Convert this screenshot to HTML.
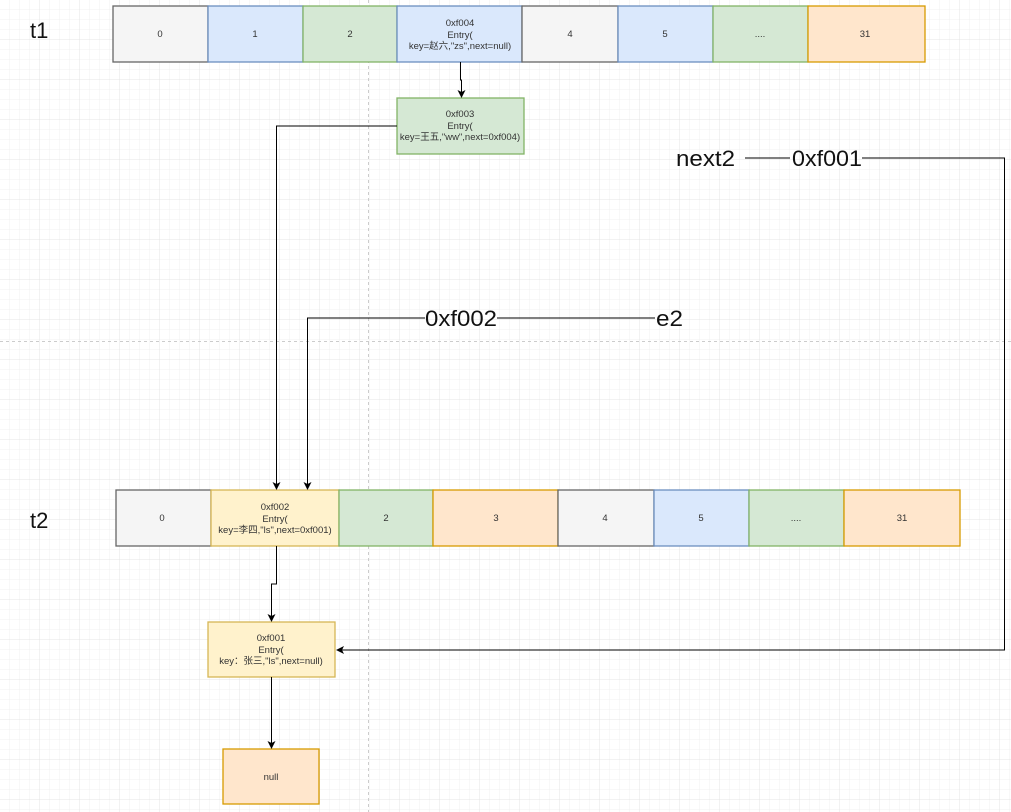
<!DOCTYPE html>
<html><head><meta charset="utf-8"><style>
html,body{margin:0;padding:0;background:#fff;}
svg{display:block;font-family:"Liberation Sans","Noto Sans CJK SC",sans-serif;}
</style></head><body>
<svg width="1011" height="812" viewBox="0 0 1011 812" xmlns="http://www.w3.org/2000/svg">
<defs>
<pattern id="g" width="10" height="10" patternUnits="userSpaceOnUse"><path d="M10 0V10H0" fill="none" stroke="#f1f1f1" stroke-width="1"/></pattern>
<pattern id="G" width="40" height="40" patternUnits="userSpaceOnUse"><rect width="40" height="40" fill="url(#g)"/><path d="M40 0V40H0" fill="none" stroke="#e4e4e4" stroke-width="1"/></pattern>
<marker id="a" markerWidth="8" markerHeight="8" refX="7" refY="4" orient="auto" markerUnits="userSpaceOnUse"><path d="M0 0L8 4L0 8L2 4Z" fill="#000"/></marker>
</defs>
<rect width="1011" height="812" fill="url(#G)"/>
<line x1="368.5" y1="0" x2="368.5" y2="812" stroke="#ccc" stroke-dasharray="3,3"/>
<line x1="0" y1="341.5" x2="1011" y2="341.5" stroke="#ccc" stroke-dasharray="3,3"/>
<g font-size="9.5" fill="#333" text-anchor="middle" stroke-width="1.3">
<rect x="113" y="6" width="95" height="56" fill="#f5f5f5" stroke="#666"/><text x="160" y="37">0</text>
<rect x="208" y="6" width="95" height="56" fill="#dae8fc" stroke="#6c8ebf"/><text x="255" y="37">1</text>
<rect x="303" y="6" width="94" height="56" fill="#d5e8d4" stroke="#82b366"/><text x="350" y="37">2</text>
<rect x="397" y="6" width="125" height="56" fill="#dae8fc" stroke="#6c8ebf"/>
<text x="460" y="26">0xf004</text><text x="460" y="38">Entry(</text><text x="460" y="49">key=赵六,"zs",next=null)</text>
<rect x="522" y="6" width="96" height="56" fill="#f5f5f5" stroke="#666"/><text x="570" y="37">4</text>
<rect x="618" y="6" width="95" height="56" fill="#dae8fc" stroke="#6c8ebf"/><text x="665" y="37">5</text>
<rect x="713" y="6" width="95" height="56" fill="#d5e8d4" stroke="#82b366"/><text x="760" y="37">....</text>
<rect x="808" y="6" width="117" height="56" fill="#ffe6cc" stroke="#d79b00"/><text x="865" y="37">31</text>
<rect x="397" y="98" width="127" height="56" fill="#d5e8d4" stroke="#82b366"/>
<text x="460" y="117">0xf003</text><text x="460" y="129">Entry(</text><text x="460" y="140">key=王五,"ww",next=0xf004)</text>
<rect x="116" y="490" width="95" height="56" fill="#f5f5f5" stroke="#666"/><text x="162" y="521">0</text>
<rect x="211" y="490" width="128" height="56" fill="#fff2cc" stroke="#d6b656"/>
<text x="275" y="510">0xf002</text><text x="275" y="522">Entry(</text><text x="275" y="533">key=李四,"ls",next=0xf001)</text>
<rect x="339" y="490" width="94" height="56" fill="#d5e8d4" stroke="#82b366"/><text x="386" y="521">2</text>
<rect x="433" y="490" width="125" height="56" fill="#ffe6cc" stroke="#d79b00"/><text x="496" y="521">3</text>
<rect x="558" y="490" width="96" height="56" fill="#f5f5f5" stroke="#666"/><text x="605" y="521">4</text>
<rect x="654" y="490" width="95" height="56" fill="#dae8fc" stroke="#6c8ebf"/><text x="701" y="521">5</text>
<rect x="749" y="490" width="95" height="56" fill="#d5e8d4" stroke="#82b366"/><text x="796" y="521">....</text>
<rect x="844" y="490" width="116" height="56" fill="#ffe6cc" stroke="#d79b00"/><text x="902" y="521">31</text>
<rect x="208" y="622" width="127" height="55" fill="#fff2cc" stroke="#d6b656"/>
<text x="271" y="641">0xf001</text><text x="271" y="653">Entry(</text><text x="271" y="664">key：张三,"ls",next=null)</text>
<rect x="223" y="749" width="96" height="55" fill="#ffe6cc" stroke="#d79b00"/><text x="271" y="780">null</text>
</g>
<g fill="none" stroke="#000" stroke-width="1">
<path d="M460.5 62V80H461.5V97" marker-end="url(#a)"/>
<path d="M397 126H276.5V489" marker-end="url(#a)"/>
<path d="M425 318H307.5V489" marker-end="url(#a)"/>
<path d="M497 318H655"/>
<path d="M745 158H790"/>
<path d="M862 158H1004.5V650H337" marker-end="url(#a)"/>
<path d="M276.5 546V584H271.5V621" marker-end="url(#a)"/>
<path d="M271.5 677V748" marker-end="url(#a)"/>
</g>
<g font-size="22" fill="#111">
<text x="30" y="38">t1</text>
<text x="30" y="528">t2</text>
<text x="425" y="326" textLength="72" lengthAdjust="spacingAndGlyphs">0xf002</text>
<text x="656" y="326" textLength="27" lengthAdjust="spacingAndGlyphs">e2</text>
<text x="676" y="166" textLength="59" lengthAdjust="spacingAndGlyphs">next2</text>
<text x="792" y="166" textLength="70" lengthAdjust="spacingAndGlyphs">0xf001</text>
</g>
</svg>
</body></html>
